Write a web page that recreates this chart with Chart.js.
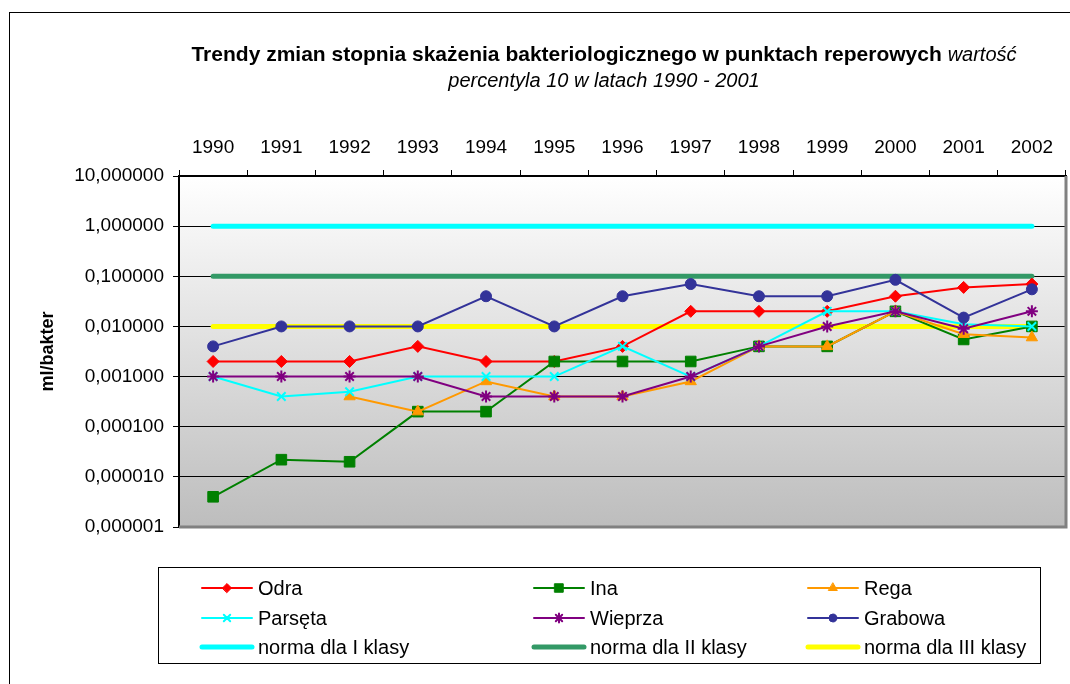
<!DOCTYPE html>
<html>
<head>
<meta charset="utf-8">
<script src="https://cdn.jsdelivr.net/npm/chart.js@4.4.1/dist/chart.umd.min.js"></script>
<style>
  html, body { margin: 0; padding: 0; background: #fff; overflow: hidden; }
  #wrap { position: relative; width: 1070px; height: 684px; }
  #frame { position: absolute; left: 9px; top: 12px; width: 1100px; height: 700px; border: 1px solid #000; pointer-events: none; }
  canvas { position: absolute; left: 0; top: 0; }
</style>
</head>
<body>
<div id="wrap">
  <canvas id="chart" width="1070" height="684"></canvas>
  <div id="frame"></div>
</div>
<script>
// categories
const years = ['1990', '1991', '1992', '1993', '1994', '1995', '1996', '1997', '1998', '1999', '2000', '2001', '2002'];

// series values (ml/bakter, percentyl 10)
const odra    = [0.002, 0.002, 0.002, 0.004, 0.002, 0.002, 0.004, 0.02, 0.02, 0.02, 0.04, 0.06, 0.07];
const ina     = [0.000004, 0.000022, 0.00002, 0.0002, 0.0002, 0.002, 0.002, 0.002, 0.004, 0.004, 0.02, 0.0055, 0.01];
const rega    = [null, null, 0.0004, 0.0002, 0.0008, 0.0004, 0.0004, 0.0008, 0.004, 0.004, 0.02, 0.007, 0.006];
const parseta = [0.001, 0.0004, 0.0005, 0.001, 0.001, 0.001, 0.004, 0.001, 0.004, 0.02, 0.02, 0.011, 0.01];
const wieprza = [0.001, 0.001, 0.001, 0.001, 0.0004, 0.0004, 0.0004, 0.001, 0.004, 0.01, 0.02, 0.009, 0.02];
const grabowa = [0.004, 0.01, 0.01, 0.01, 0.04, 0.01, 0.04, 0.07, 0.04, 0.04, 0.085, 0.015, 0.055];

// class limits
const normaI   = [1, 1, 1, 1, 1, 1, 1, 1, 1, 1, 1, 1, 1];
const normaII  = [0.1, 0.1, 0.1, 0.1, 0.1, 0.1, 0.1, 0.1, 0.1, 0.1, 0.1, 0.1, 0.1];
const normaIII = [0.01, 0.01, 0.01, 0.01, 0.01, 0.01, 0.01, 0.01, 0.01, 0.01, 0.01, 0.01, 0.01];

// y tick labels
const yTicks = [0.000001, 0.00001, 0.0001, 0.001, 0.01, 0.1, 1, 10];

const FONT = "'Liberation Sans', Arial, sans-serif";
Chart.defaults.font.family = FONT;
Chart.defaults.color = '#000';

function series(label, data, color, style, radius, bw, order) {
  return {
    label, data, order,
    borderColor: color, backgroundColor: color,
    borderWidth: 2, pointStyle: style, pointRadius: radius,
    pointBorderWidth: bw, pointHoverRadius: radius, tension: 0
  };
}
function norma(label, data, color, order) {
  return {
    label, data, order,
    borderColor: color, backgroundColor: color,
    borderWidth: 5, pointRadius: 0, borderCapStyle: 'round', pointStyle: 'line'
  };
}

const datasets = [
  series('Odra', odra, '#FF0000', 'rectRot', 6, 1, 10),
  series('Ina', ina, '#008000', 'rect', 7.5, 1, 9),
  series('Rega', rega, '#FF9900', 'triangle', 6.5, 1, 8),
  series('Parsęta', parseta, '#00FFFF', 'crossRot', 6, 2, 7),
  series('Wieprza', wieprza, '#800080', 'star', 6, 2, 6),
  series('Grabowa', grabowa, '#333399', 'circle', 5.5, 1, 5),
  norma('norma dla I klasy', normaI, '#00FFFF', 22),
  norma('norma dla II klasy', normaII, '#339966', 21),
  norma('norma dla III klasy', normaIII, '#FFFF00', 20)
];

// gradient plot background + grey frame
const plotArea = {
  id: 'plotArea',
  beforeDraw(chart) {
    const { ctx, chartArea: a } = chart;
    const g = ctx.createLinearGradient(0, a.top, 0, a.bottom);
    g.addColorStop(0, '#ffffff');
    g.addColorStop(1, '#bdbdbd');
    ctx.save();
    ctx.fillStyle = g;
    ctx.fillRect(a.left, a.top, a.right - a.left, a.bottom - a.top);
    ctx.restore();
  },
  beforeDatasetsDraw(chart) {
    const { ctx, chartArea: a } = chart;
    ctx.save();
    ctx.strokeStyle = '#808080';
    ctx.lineWidth = 3;
    ctx.beginPath();
    ctx.moveTo(a.right, a.top);
    ctx.lineTo(a.right, a.bottom);
    ctx.lineTo(a.left, a.bottom);
    ctx.stroke();
    ctx.restore();
  }
};

// two-line title with bold and italic parts
const titlePlugin = {
  id: 'mixedTitle',
  afterDraw(chart) {
    const ctx = chart.ctx;
    const cx = 604;
    ctx.save();
    ctx.fillStyle = '#000';
    ctx.textBaseline = 'middle';
    ctx.textAlign = 'left';
    const bold = 'Trendy zmian stopnia skażenia bakteriologicznego w punktach reperowych ';
    const ital = 'wartość';
    ctx.font = 'bold 21px ' + FONT;
    const wb = ctx.measureText(bold).width;
    ctx.font = 'italic 20px ' + FONT;
    const wi = ctx.measureText(ital).width;
    let x = cx - (wb + wi) / 2;
    ctx.font = 'bold 21px ' + FONT;
    ctx.fillText(bold, x, 55);
    ctx.font = 'italic 20px ' + FONT;
    ctx.fillText(ital, x + wb, 55);
    ctx.textAlign = 'center';
    ctx.fillText('percentyla 10 w latach 1990 - 2001', cx, 81);
    ctx.restore();
  }
};

// legend box, three columns
const legendPlugin = {
  id: 'boxLegend',
  afterDraw(chart) {
    const ctx = chart.ctx;
    const colX = [202, 534, 808];
    const rowY = [588, 618, 647];
    ctx.save();
    ctx.strokeStyle = '#000';
    ctx.lineWidth = 1;
    ctx.strokeRect(158.5, 567.5, 882, 96);
    ctx.font = '20px ' + FONT;
    ctx.textBaseline = 'middle';
    ctx.fillStyle = '#000';
    chart.data.datasets.forEach((ds, i) => {
      const x = colX[i % 3], y = rowY[Math.floor(i / 3)];
      ctx.strokeStyle = ds.borderColor;
      ctx.lineWidth = ds.borderWidth;
      ctx.lineCap = 'round';
      ctx.beginPath();
      ctx.moveTo(x, y);
      ctx.lineTo(x + 50, y);
      ctx.stroke();
      if (ds.pointRadius > 0 && Chart.helpers && Chart.helpers.drawPoint) {
        ctx.fillStyle = ds.backgroundColor;
        ctx.lineWidth = ds.pointBorderWidth;
        Chart.helpers.drawPoint(ctx, { pointStyle: ds.pointStyle, radius: ds.pointRadius - 1.5, borderWidth: ds.pointBorderWidth }, x + 25, y);
      }
      ctx.fillStyle = '#000';
      ctx.fillText(ds.label, x + 56, y + 1);
    });
    ctx.restore();
  }
};

new Chart(document.getElementById('chart'), {
  type: 'line',
  data: { labels: years, datasets },
  options: {
    responsive: false,
    devicePixelRatio: 1,
    animation: false,
    layout: { autoPadding: false, padding: { top: 0, right: 4, bottom: 157, left: 0 } },
    plugins: {
      legend: { display: false },
      title: { display: false },
      tooltip: { enabled: false }
    },
    scales: {
      x: {
        position: 'top',
        offset: true,
        afterFit: s => { s.height = 176; s.paddingLeft = 0; s.paddingRight = 0; },
        grid: { offset: true, drawOnChartArea: false, tickLength: 6, color: '#000' },
        border: { color: '#000', width: 2 },
        ticks: { color: '#000', font: { size: 19 }, padding: 11, maxRotation: 0, autoSkip: false }
      },
      y: {
        type: 'logarithmic',
        min: 0.000001,
        max: 10,
        afterBuildTicks: s => { s.ticks = yTicks.map(v => ({ value: v })); },
        afterFit: s => { s.width = 179; s.paddingTop = 0; s.paddingBottom = 0; },
        grid: { color: '#000', tickLength: 6, lineWidth: 1 },
        border: { color: '#000', width: 2 },
        ticks: {
          color: '#000', font: { size: 19 }, padding: 9,
          callback: v => Number(v).toFixed(6).replace('.', ',')
        },
        title: {
          display: true, text: 'ml/bakter', color: '#000',
          font: { size: 18, weight: 'bold' }, padding: { top: 37, bottom: 0 }
        }
      }
    }
  },
  plugins: [plotArea, titlePlugin, legendPlugin]
});
</script>
</body>
</html>
